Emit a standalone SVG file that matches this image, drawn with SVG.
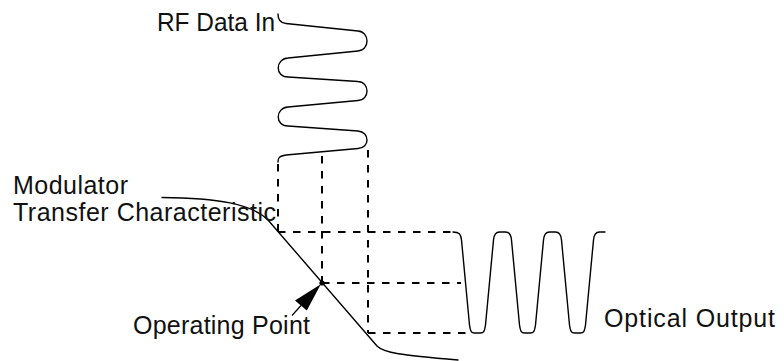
<svg xmlns="http://www.w3.org/2000/svg" width="784" height="361" viewBox="0 0 784 361">
  <style>
    .label { font-family: "Liberation Sans", Arial, sans-serif; font-size: 25px; fill: #111; }
    .curve { fill: none; stroke: #000; stroke-width: 1.4; stroke-linejoin: round; stroke-linecap: round; }
    .proj { fill: none; stroke: #000; stroke-width: 2; stroke-dasharray: 7.5 7.5; }
  </style>

  <rect width="784" height="361" fill="#fff"/>

  <!-- dashed projection lines -->
  <g id="connectors">
    <line class="proj" x1="278" y1="164" x2="278" y2="232"/>
    <line class="proj" x1="322" y1="156" x2="322" y2="283"/>
    <line class="proj" x1="368" y1="150" x2="368" y2="333"/>
    <line class="proj" x1="278" y1="232" x2="452" y2="232"/>
    <line class="proj" x1="322" y1="283" x2="461" y2="283"/>
    <line class="proj" x1="368" y1="333" x2="472" y2="333"/>
    <!-- pointer from label to operating point -->
    <line x1="292" y1="315.5" x2="301" y2="305.5" stroke="#000" stroke-width="1.2"/>
    <polygon points="320.8,284.3 295,300.5 306.8,310.5" fill="#000"/>
  </g>

  <!-- RF input signal -->
  <g id="rf-input">
    <path class="curve" d="M278,14 C278,20 280,23 286,23.5 L358,31 C370,32 370,50 358,51 L288,58 C275,59 275,77 288,77 L358,81.5 C370,82 370,100 358,100.5 L288,107 C275,108 275,126 288,126 L358,131 C370,132 370,148 358,148.5 L286,155 C279,156 278,158 278,162"/>
    <text class="label" x="157" y="31" textLength="118" lengthAdjust="spacingAndGlyphs">RF Data In</text>
  </g>

  <!-- modulator transfer characteristic -->
  <g id="transfer-characteristic">
    <path class="curve" d="M162,197.5 C218,198 252,204 268,220 L377,346 C384,353 400,355 458,360"/>
    <text class="label" x="13" y="194" textLength="115" lengthAdjust="spacing">Modulator</text>
    <text class="label" x="13" y="221" textLength="263" lengthAdjust="spacing">Transfer Characteristic</text>
  </g>

  <!-- bias point -->
  <g id="operating-point">
    <circle cx="322" cy="283" r="2.6" fill="#000"/>
    <text class="label" x="133" y="334" textLength="177" lengthAdjust="spacing">Operating Point</text>
  </g>

  <!-- optical output signal -->
  <g id="optical-output">
    <path class="curve" d="M453,232 C459,232 461,234 461.5,240 L469.5,325 C470.5,332 471.5,333 474.5,333 L480.5,333 C483.5,333 484.5,332 485.5,325 L493.5,240 C494,234 496,232 499.5,232 L505.5,232 C509,232 511,234 511.5,240 L519.5,325 C520.5,332 521.5,333 524.5,333 L530.5,333 C533.5,333 534.5,332 535.5,325 L543.5,240 C544,234 546,232 549.5,232 L555.5,232 C559,232 561,234 561.5,240 L569.5,325 C570.5,332 571.5,333 574.5,333 L580.5,333 C583.5,333 584.5,332 585.5,325 L593.5,240 C594,234 596,232 599.5,232 L605,232"/>
    <text class="label" x="604" y="327" textLength="171" lengthAdjust="spacing">Optical Output</text>
  </g>
</svg>
